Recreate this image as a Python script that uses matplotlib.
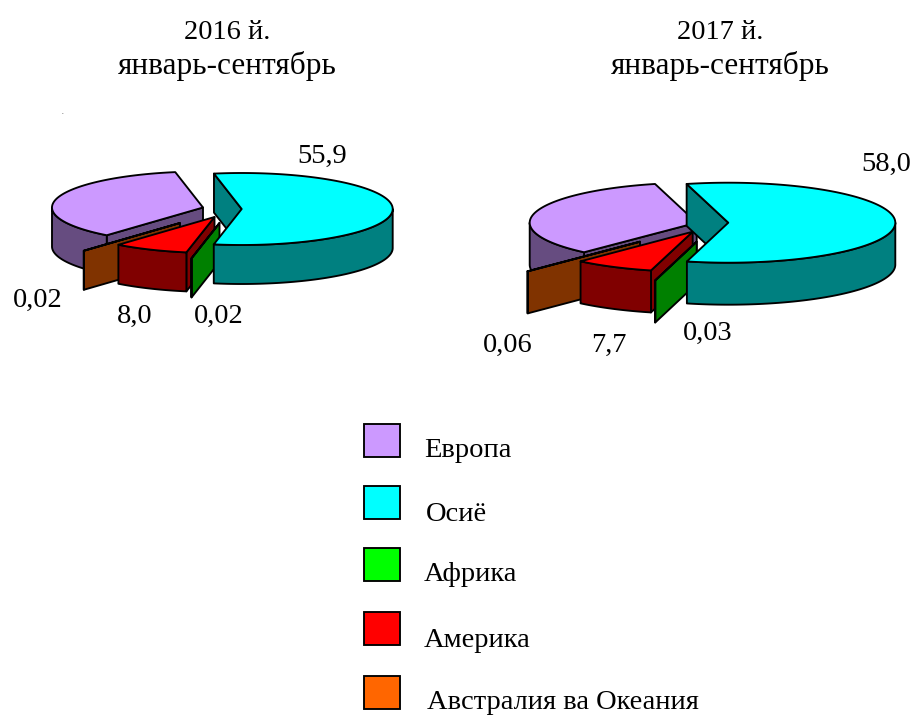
import numpy as np
import matplotlib
matplotlib.use("Agg")
import matplotlib.pyplot as plt
from matplotlib.patches import Polygon, Rectangle

plt.rcParams['font.family'] = ['Liberation Serif', 'DejaVu Serif']

# data
regions = ['Европа', 'Осиё', 'Африка', 'Америка', 'Австралия ва Океания']
values_2016 = [36.06, 55.9, 0.02, 8.0, 0.02]
values_2017 = [34.21, 58.0, 0.03, 7.7, 0.06]
labels_2016 = ['55,9', '0,02', '8,0', '0,02']
labels_2017 = ['58,0', '0,03', '7,7', '0,06']

top_colors = ['#CC99FF', '#00FFFF', '#00FF00', '#FF0000', '#FF6600']
wall_colors = ['#664C80', '#008080', '#008000', '#800000', '#803300']
draw_order = [0, 4, 3, 2, 1]

W, H = 914, 715
fig = plt.figure(figsize=(W / 100, H / 100), dpi=100)
ax = fig.add_axes([0, 0, 1, 1])
ax.set_xlim(0, W)
ax.set_ylim(H, 0)
ax.axis('off')

LW = 1.35


def arc(cx, cy, rx, ry, t1, t2, n=80):
    t = np.radians(np.linspace(t1, t2, n))
    return np.column_stack([cx + rx * np.cos(t), cy - ry * np.sin(t)])


def pie3d(values, start, center, rx, ry, depth, explode):
    total = sum(values)
    hi = start
    spans = []
    for v in values:
        lo = hi - 360.0 * v / total
        spans.append((hi, lo))
        hi = lo
    for i in draw_order:
        hi, lo = spans[i]
        cx = center[0] + explode[i][0]
        cy = center[1] + explode[i][1]
        drop = np.array([0, depth])
        kw = dict(ec='black', lw=LW, joinstyle='round')
        # cut faces that look towards the viewer
        for ang, turn in ((hi, 90), (lo, -90)):
            if np.sin(np.radians(ang + turn)) < 0:
                a = np.array([cx, cy])
                b = arc(cx, cy, rx, ry, ang, ang, 1)[0]
                ax.add_patch(Polygon([a, b, b + drop, a + drop], fc=wall_colors[i], **kw))
        # outer wall, front half only
        for k in range(-2, 2):
            w1 = max(lo, 180 + 360 * k)
            w2 = min(hi, 360 + 360 * k)
            if w2 > w1:
                rim = arc(cx, cy, rx, ry, w1, w2)
                ax.add_patch(Polygon(np.vstack([rim, rim[::-1] + drop]), fc=wall_colors[i], **kw))
        # top
        top = np.vstack([[cx, cy], arc(cx, cy, rx, ry, lo, hi, 160)])
        ax.add_patch(Polygon(top, fc=top_colors[i], **kw))


pie3d(values_2016, 230.4, (203, 207.5), 151, 36, 39,
      [(0, 0), (38.7, 1.5), (16.5, 15.5), (11.5, 9.5), (-23, 15.5)])
pie3d(values_2017, 227.6, (696.7, 222.7), 167, 40, 42,
      [(0, 0), (31.6, 0), (0, 19), (-4, 9), (-56.7, 19)])

FS = 20.5
for x, year in ((227, '2016 й.'), (720, '2017 й.')):
    ax.text(x, 39, year, ha='center', va='baseline', fontsize=FS)
    ax.text(x, 74, 'январь-сентябрь', ha='center', va='baseline', fontsize=22.5)
ax.text(62, 114, '.', ha='center', va='baseline', fontsize=5)

for s, x, y in zip(labels_2016, (297, 194, 117, 13), (163, 323, 323, 307)):
    ax.text(x, y, s, ha='left', va='baseline', fontsize=FS)
for s, x, y in zip(labels_2017, (861, 683, 591, 483), (171, 340, 352, 352)):
    ax.text(x, y, s, ha='left', va='baseline', fontsize=FS)

# legend
box_y = [424, 486, 548, 612, 676]
text_x = [424, 426, 424, 424, 427]
text_y = [457, 521, 581, 647, 709]
for name, color, by, tx, ty in zip(regions, top_colors, box_y, text_x, text_y):
    ax.add_patch(Rectangle((363.5, by), 36.5, 33, fc=color, ec='black', lw=LW))
    ax.text(tx, ty, name, ha='left', va='baseline', fontsize=FS)

fig.savefig('out.png', dpi=100)
